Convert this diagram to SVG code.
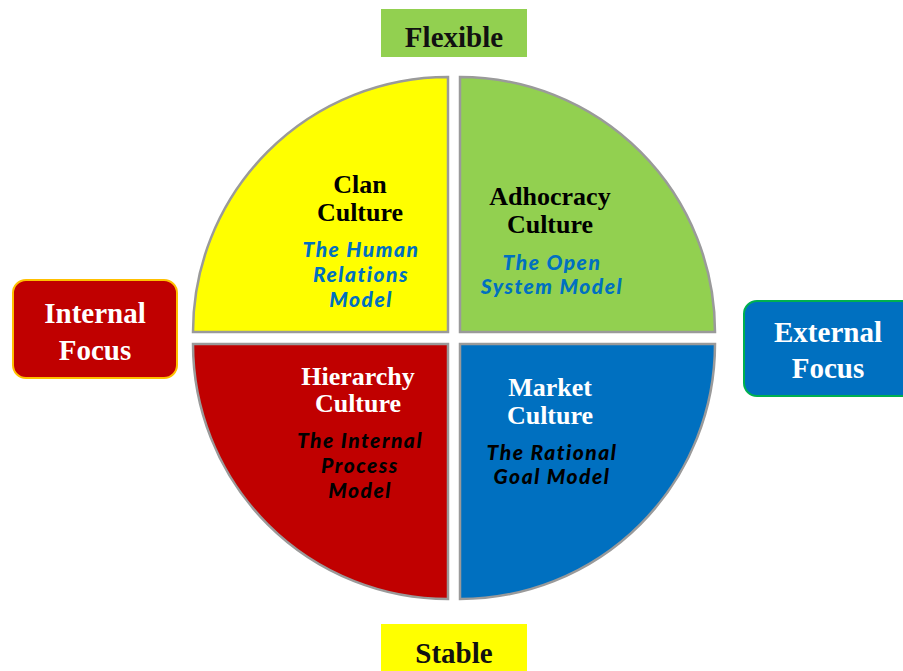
<svg xmlns="http://www.w3.org/2000/svg" width="903" height="671" viewBox="0 0 903 671">
  <style>
    .quad { stroke: #9a9a9a; stroke-width: 2.5; }
    .title { font-family: "Liberation Serif", "Times New Roman", serif; font-weight: bold; font-size: 26px; text-anchor: middle; }
    .axis { font-family: "Liberation Serif", "Times New Roman", serif; font-weight: bold; font-size: 29px; text-anchor: middle; }
    .model { font-family: Lato, "Open Sans", sans-serif; font-weight: 900; font-style: italic; font-size: 21px; letter-spacing: 1.5px; text-anchor: middle; }
  </style>
  <rect width="903" height="671" fill="#ffffff"/>

  <!-- Axis labels -->
  <g id="flexible">
    <rect x="381" y="9" width="146" height="48" fill="#92D050"/>
    <text class="axis" x="454" y="47" fill="#111">Flexible</text>
  </g>
  <g id="stable">
    <rect x="381" y="624" width="146" height="50" fill="#FFFF00"/>
    <text class="axis" x="454" y="663" fill="#111">Stable</text>
  </g>
  <g id="internal-focus">
    <rect x="13" y="280" width="164" height="98" rx="13" fill="#C00000" stroke="#FFC000" stroke-width="2"/>
    <text class="axis" x="95" y="323" fill="#fff">Internal</text>
    <text class="axis" x="95" y="360" fill="#fff">Focus</text>
  </g>
  <g id="external-focus">
    <rect x="744" y="301" width="175" height="95" rx="13" fill="#0070C0" stroke="#00B050" stroke-width="2"/>
    <text class="axis" x="828" y="342" fill="#fff">External</text>
    <text class="axis" x="828" y="378" fill="#fff">Focus</text>
  </g>

  <!-- Quadrants -->
  <g id="clan">
    <path class="quad" d="M448,332 L448,77 A255,255 0 0 0 193,332 Z" fill="#FFFF00"/>
    <text class="title" x="360" y="193" fill="#000">Clan</text>
    <text class="title" x="360" y="221" fill="#000">Culture</text>
    <text class="model" x="361" y="257" fill="#0070C0">The Human</text>
    <text class="model" x="361" y="282" fill="#0070C0">Relations</text>
    <text class="model" x="361" y="307" fill="#0070C0">Model</text>
  </g>
  <g id="adhocracy">
    <path class="quad" d="M460,332 L460,77 A255,255 0 0 1 715,332 Z" fill="#92D050"/>
    <text class="title" x="550" y="205" fill="#000">Adhocracy</text>
    <text class="title" x="550" y="233" fill="#000">Culture</text>
    <text class="model" x="552" y="270" fill="#0070C0">The Open</text>
    <text class="model" x="552" y="294" fill="#0070C0">System Model</text>
  </g>
  <g id="hierarchy">
    <path class="quad" d="M448,344 L193,344 A255,255 0 0 0 448,599 Z" fill="#C00000"/>
    <text class="title" x="358" y="385" fill="#fff">Hierarchy</text>
    <text class="title" x="358" y="412" fill="#fff">Culture</text>
    <text class="model" x="360" y="448" fill="#000">The Internal</text>
    <text class="model" x="360" y="473" fill="#000">Process</text>
    <text class="model" x="360" y="498" fill="#000">Model</text>
  </g>
  <g id="market">
    <path class="quad" d="M460,344 L715,344 A255,255 0 0 1 460,599 Z" fill="#0070C0"/>
    <text class="title" x="550" y="396" fill="#fff">Market</text>
    <text class="title" x="550" y="424" fill="#fff">Culture</text>
    <text class="model" x="552" y="460" fill="#000">The Rational</text>
    <text class="model" x="552" y="484" fill="#000">Goal Model</text>
  </g>

  <g id="connectors"></g>
</svg>
